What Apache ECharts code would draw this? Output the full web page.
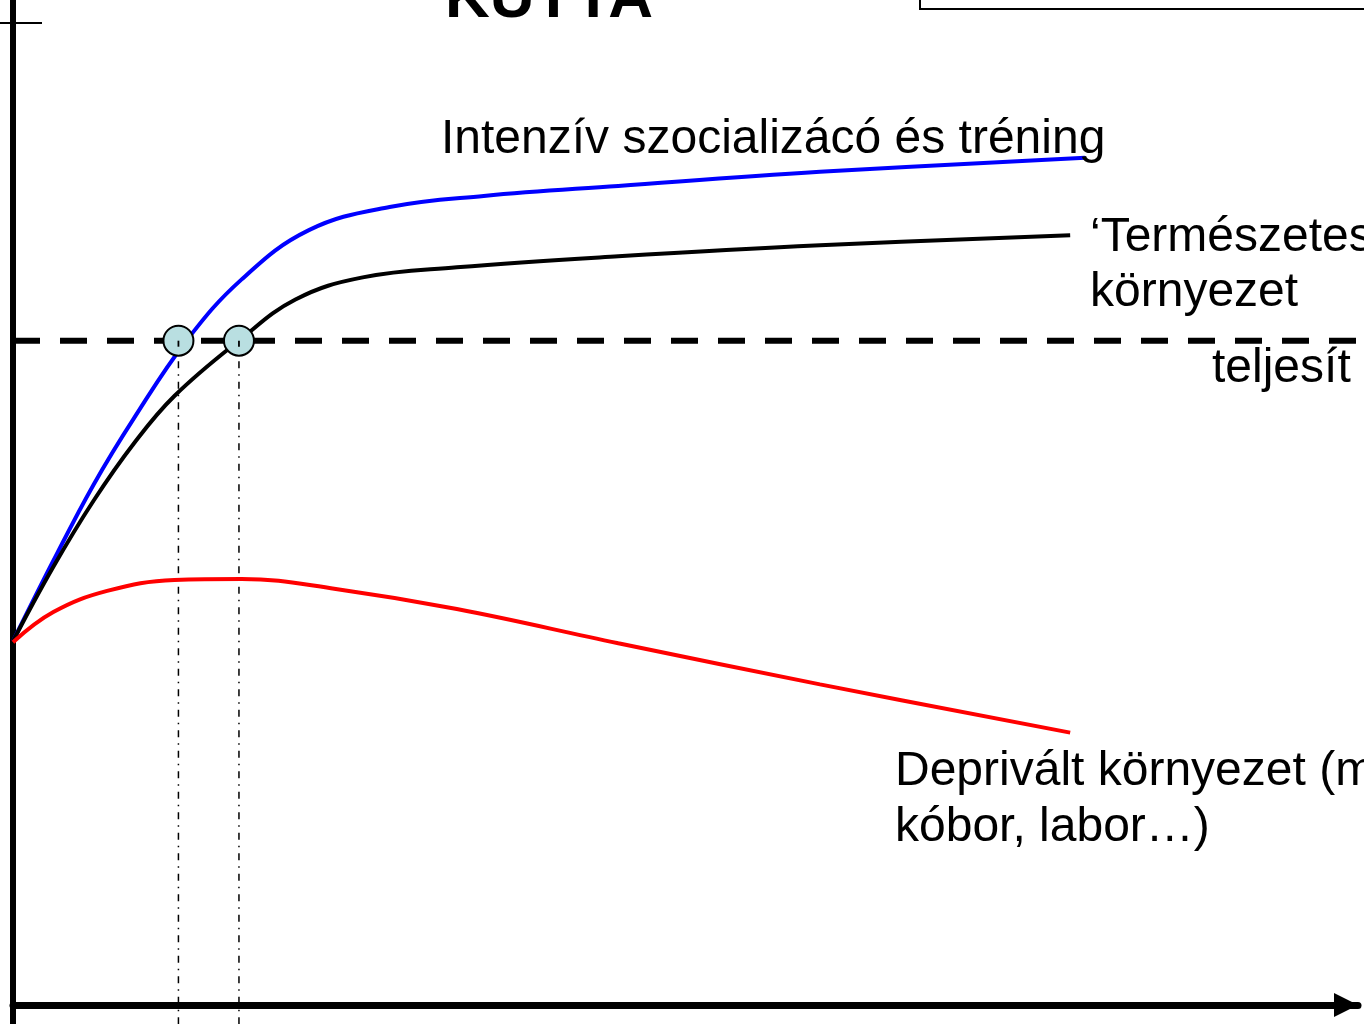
<!DOCTYPE html>
<html>
<head>
<meta charset="utf-8">
<style>
  html, body { margin: 0; padding: 0; background: #fff; }
  #chart { width: 1364px; height: 1024px; }
</style>
<script src="https://cdn.jsdelivr.net/npm/echarts@6/dist/echarts.min.js"></script>
</head>
<body>
<div id="chart"></div>
<script>
// curves (x = age, y = performance, arbitrary units 0..100)
const intenzivX = [0, 3, 6, 9, 12.9, 17, 22, 28, 35, 45, 60, 79.7];
const intenzivY = [36.2, 44.2, 51.8, 58.4, 66.1, 72.2, 77.1, 79.4, 80.5, 81.5, 82.9, 84.3];

const termeszetesX = [0, 3, 6, 9, 12, 16.8, 21, 26, 33, 45, 60, 78.6];
const termeszetesY = [36.2, 43.6, 50.2, 55.9, 60.6, 66.1, 70.2, 72.4, 73.4, 74.5, 75.6, 76.6];

const deprivaltX = [0, 3, 7, 12, 17, 24, 33, 45, 60, 78.6];
const deprivaltY = [36.1, 39.1, 41.2, 42.3, 42.4, 41.4, 39.4, 36.0, 31.9, 27.1];

// 'teljesítmény' threshold and the ages where the curves reach it
const thresholdY = 66.1;
const markerX = [12.3, 16.8];

const zip = (xs, ys) => xs.map((x, i) => [x, ys[i]]);

const chart = echarts.init(document.getElementById('chart'));

const font = '"Liberation Sans", Arial, sans-serif';

function label(text, x, y, size, weight, align) {
  return {
    type: 'text',
    x: x, y: y,
    z: 100,
    style: {
      text: text,
      font: (weight || 'normal') + ' ' + size + 'px ' + font,
      fill: '#000',
      align: align || 'left',
      textAlign: align || 'left',
      verticalAlign: 'middle',
      textVerticalAlign: 'middle'
    }
  };
}

const curveBase = {
  type: 'line',
  showSymbol: false,
  symbol: 'none',
  smooth: 0.4,
  z: 5
};

const option = {
  animation: false,
  backgroundColor: '#fff',
  grid: { left: 13, right: 6, top: 0, bottom: 19 },
  xAxis: {
    type: 'value',
    min: 0,
    max: 100,
    axisLine: {
      show: true,
      symbol: ['none', 'triangle'],
      symbolSize: [24, 24],
      symbolOffset: [0, -12],
      lineStyle: { color: '#000', width: 7 }
    },
    axisTick: { show: false },
    axisLabel: { show: false },
    splitLine: { show: false }
  },
  yAxis: {
    type: 'value',
    min: 0,
    max: 100,
    axisLine: { show: true, lineStyle: { color: '#000', width: 6 } },
    axisTick: { show: false },
    axisLabel: { show: false },
    splitLine: { show: false }
  },
  series: [
    {
      type: 'line',
      data: [[0, thresholdY], [100.45, thresholdY]],
      symbol: 'none',
      clip: false,
      lineStyle: { color: '#000', width: 6, type: [27, 20] },
      z: 2
    },
    ...markerX.map(mx => ({
      type: 'line',
      data: [[mx, thresholdY], [mx, -1.9]],
      symbol: 'none',
      clip: false,
      lineStyle: { color: '#000', width: 1.5, type: [7, 6, 1.5, 6] },
      z: 3
    })),
    Object.assign({}, curveBase, {
      name: 'Intenzív szocializácó és tréning',
      data: zip(intenzivX, intenzivY),
      lineStyle: { color: '#0000ff', width: 4 }
    }),
    Object.assign({}, curveBase, {
      name: 'Természetes környezet',
      data: zip(termeszetesX, termeszetesY),
      lineStyle: { color: '#000', width: 4 }
    }),
    Object.assign({}, curveBase, {
      name: 'Deprivált környezet',
      data: zip(deprivaltX, deprivaltY),
      lineStyle: { color: '#ff0000', width: 4 }
    }),
    {
      type: 'scatter',
      data: markerX.map(mx => [mx, thresholdY]),
      symbol: 'circle',
      symbolSize: 30,
      itemStyle: { color: '#b9dfe1', borderColor: '#000', borderWidth: 2, opacity: 1 },
      z: 10
    },
    {
      type: 'scatter',
      data: markerX.map(mx => [mx, thresholdY]),
      symbol: 'rect',
      symbolSize: [1.8, 6],
      symbolOffset: [0, 3],
      itemStyle: { color: '#000', opacity: 1 },
      z: 11
    }
  ],
  graphic: [
    { type: 'line', shape: { x1: 13, y1: 1000, x2: 13, y2: 1024 }, style: { stroke: '#000', lineWidth: 6 }, z: 50 },
    { type: 'line', shape: { x1: 0, y1: 23, x2: 42, y2: 23 }, style: { stroke: '#000', lineWidth: 2 }, z: 50 },
    { type: 'rect', shape: { x: 920, y: -20, width: 460, height: 29 }, style: { fill: 'none', stroke: '#000', lineWidth: 2 }, z: 50 },
    label('KUTYA', 549, 0, 62, 'bold', 'center'),
    label('Intenzív szocializácó és tréning', 441, 140, 48),
    label('\u2018Természetes', 1090, 238, 48),
    label('környezet', 1090, 293, 48),
    label('teljesít', 1212, 369, 48),
    label('Deprivált környezet (m', 895, 772, 48),
    label('kóbor, labor\u2026)', 895, 828, 48)
  ]
};

chart.setOption(option);
</script>
</body>
</html>
